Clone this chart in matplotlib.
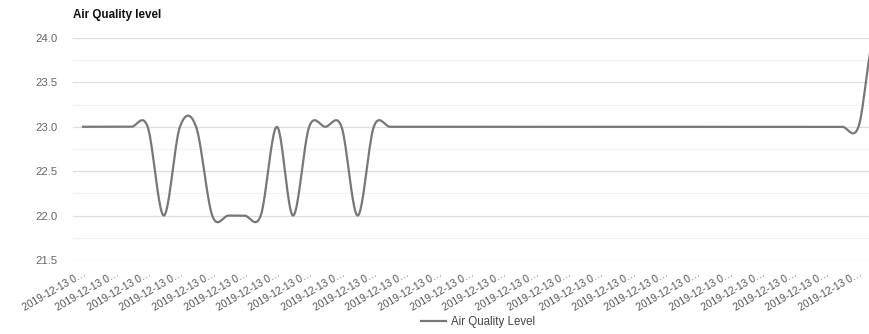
import matplotlib.pyplot as plt
import numpy as np

plt.rcParams["font.family"] = ["Liberation Sans", "DejaVu Sans"]

# readings, one every step; the chart shows a label on every second one
levels = [23, 23, 23, 23, 23, 22, 23, 23, 22, 22,
          22, 22, 23, 22, 23, 23, 23, 22, 23, 23,
          23, 23, 23, 23, 23, 23, 23, 23, 23, 23,
          23, 23, 23, 23, 23, 23, 23, 23, 23, 23,
          23, 23, 23, 23, 23, 23, 23, 23, 23, 24]
tick_label = "2019-12-13 0\u2026"
yticks = [21.5, 22.0, 22.5, 23.0, 23.5, 24.0]


# catmull-rom smoothing like the "function" curve of the original
def smooth(y, steps=20):
    y = np.asarray(y, dtype=float)
    m = np.zeros_like(y)
    m[1:-1] = (y[2:] - y[:-2]) / 2
    xs, ys = [], []
    for i in range(len(y) - 1):
        t = np.linspace(0, 1, steps, endpoint=False)
        h00 = 2 * t**3 - 3 * t**2 + 1
        h10 = t**3 - 2 * t**2 + t
        h01 = -2 * t**3 + 3 * t**2
        h11 = t**3 - t**2
        xs.append(i + t)
        ys.append(h00 * y[i] + h10 * m[i] + h01 * y[i + 1] + h11 * m[i + 1])
    xs.append([len(y) - 1])
    ys.append([y[-1]])
    return np.concatenate(xs), np.concatenate(ys)


x = np.arange(len(levels))
sx, sy = smooth(levels)

fig = plt.figure(figsize=(8.69, 3.34), dpi=100)
ax = fig.add_axes([0.084, 0.2216, 0.916, 0.6647])

line, = ax.plot(sx, sy, color="#777777", linewidth=1.6, label="Air Quality Level")

ax.set_xlim(-0.62, 48.65)
ax.set_ylim(21.5, 24.0)

# gridlines: major every 0.5, lighter ones in between
ax.set_yticks(yticks)
ax.set_yticks(np.arange(21.75, 24.0, 0.5), minor=True)
ax.grid(axis="y", which="major", color="#dedede", linewidth=0.9)
ax.grid(axis="y", which="minor", color="#f1f1f1", linewidth=0.9)
ax.set_axisbelow(True)
ax.tick_params(axis="y", which="both", length=0, pad=11, labelsize=8.2, labelcolor="#666666")
ax.set_yticklabels([f"{v:.1f}" for v in yticks])

ax.set_xticks(x[::2])
ax.set_xticklabels([tick_label] * len(x[::2]), rotation=30, ha="right",
                   rotation_mode="anchor", fontsize=7.4, color="#555555")
ax.tick_params(axis="x", length=0, pad=6)

for s in ax.spines.values():
    s.set_visible(False)

fig.text(0.084, 0.955, "Air Quality level", fontsize=8.4, fontweight="bold",
         ha="left", va="center", color="#111111")

fig.legend(handles=[line], loc="center", bbox_to_anchor=(0.55, 0.035), frameon=False,
           fontsize=8.3, handlelength=2.2, handletextpad=0.4, labelcolor="#444444")

fig.savefig("out.png", dpi=100)
